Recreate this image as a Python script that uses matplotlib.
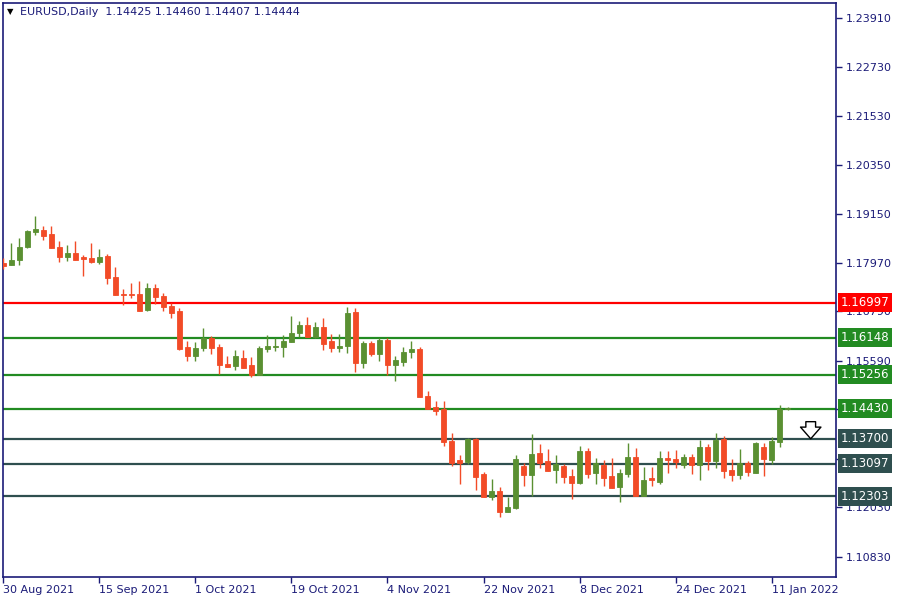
import matplotlib
matplotlib.use("Agg")
import matplotlib.pyplot as plt
import numpy as np

# daily EURUSD candles, 30 Aug 2021 .. 13 Jan 2022 (open, high, low, close)
opens = [1.17952, 1.17923, 1.18037, 1.18352, 1.18724, 1.18765, 1.18668, 1.18352, 1.18117, 1.18207,
         1.18110, 1.18085, 1.17996, 1.18134, 1.17624, 1.17212, 1.17212, 1.17212, 1.16831, 1.17357,
         1.17160, 1.16920, 1.16799, 1.15925, 1.15714, 1.15908, 1.16151, 1.15925, 1.15513, 1.15471,
         1.15658, 1.15488, 1.15253, 1.15877, 1.15933, 1.15933, 1.16054, 1.16272, 1.16459, 1.16168,
         1.16411, 1.16071, 1.15908, 1.15957, 1.16775, 1.15544, 1.16022, 1.15763, 1.16095, 1.15496,
         1.15561, 1.15804, 1.15877, 1.14736, 1.14469, 1.14421, 1.13644, 1.13183, 1.13134, 1.13692,
         1.12843, 1.12285, 1.12430, 1.11921, 1.12018, 1.13037, 1.12819, 1.13353, 1.13159, 1.12940,
         1.13037, 1.12795, 1.12632, 1.13401, 1.12875, 1.13061, 1.12795, 1.12535, 1.12850, 1.13256,
         1.12316, 1.12746, 1.12656, 1.13231, 1.13207, 1.13069, 1.13256, 1.13069, 1.13498, 1.13166,
         1.13692, 1.12940, 1.12826, 1.13110, 1.12875, 1.13498, 1.13190, 1.13627, 1.14425]
highs = [1.18085, 1.18457, 1.18578, 1.18765, 1.19105, 1.18862, 1.18862, 1.18498, 1.18401, 1.18498,
         1.18158, 1.18457, 1.18304, 1.18182, 1.17867, 1.17333, 1.17479, 1.17527, 1.17479, 1.17454,
         1.17236, 1.17000, 1.16872, 1.16071, 1.16047, 1.16386, 1.16192, 1.15998, 1.15707, 1.15852,
         1.15852, 1.15683, 1.15950, 1.16217, 1.16144, 1.16217, 1.16678, 1.16556, 1.16653, 1.16532,
         1.16629, 1.16241, 1.16241, 1.16896, 1.16872, 1.16071, 1.16071, 1.16144, 1.16144, 1.15707,
         1.15925, 1.16071, 1.15925, 1.14857, 1.14615, 1.14615, 1.13838, 1.13304, 1.13717, 1.13717,
         1.12892, 1.12722, 1.12528, 1.12285, 1.13304, 1.13110, 1.13814, 1.13571, 1.13450, 1.13304,
         1.13086, 1.12964, 1.13523, 1.13474, 1.13231, 1.13183, 1.13231, 1.12964, 1.13595, 1.13474,
         1.13013, 1.13013, 1.13401, 1.13401, 1.13425, 1.13328, 1.13328, 1.13668, 1.13571, 1.13838,
         1.13765, 1.13207, 1.13450, 1.13159, 1.13620, 1.13595, 1.13741, 1.14518, 1.14460]
lows = [1.17811, 1.17923, 1.17923, 1.18335, 1.18651, 1.18529, 1.18335, 1.17996, 1.18020, 1.18044,
        1.17656, 1.17971, 1.17947, 1.17462, 1.17195, 1.16952, 1.17122, 1.16806, 1.16806, 1.16976,
        1.16806, 1.16636, 1.15852, 1.15593, 1.15593, 1.15835, 1.15763, 1.15270, 1.15447, 1.15374,
        1.15423, 1.15204, 1.15253, 1.15804, 1.15835, 1.15690, 1.16054, 1.16175, 1.16168, 1.16151,
        1.15860, 1.15811, 1.15811, 1.15787, 1.15326, 1.15423, 1.15714, 1.15593, 1.15253, 1.15107,
        1.15471, 1.15666, 1.14719, 1.14421, 1.14282, 1.13523, 1.13037, 1.12600, 1.13086, 1.12455,
        1.12285, 1.12212, 1.11799, 1.11921, 1.11994, 1.12552, 1.12309, 1.12989, 1.12916, 1.12625,
        1.12625, 1.12236, 1.12600, 1.12753, 1.12608, 1.12559, 1.12511, 1.12171, 1.12778, 1.12316,
        1.12316, 1.12559, 1.12608, 1.12875, 1.12996, 1.12996, 1.12850, 1.12705, 1.12947, 1.12996,
        1.12753, 1.12680, 1.12729, 1.12802, 1.12875, 1.12802, 1.13093, 1.13506, 1.14407]
closes = [1.17898, 1.18037, 1.18352, 1.18741, 1.18789, 1.18627, 1.18335, 1.18117, 1.18207, 1.18044,
          1.18068, 1.17996, 1.18110, 1.17607, 1.17195, 1.17195, 1.17187, 1.16806, 1.17357, 1.17146,
          1.16903, 1.16758, 1.15877, 1.15714, 1.15901, 1.16151, 1.15908, 1.15496, 1.15447, 1.15707,
          1.15423, 1.15253, 1.15901, 1.15950, 1.15950, 1.16078, 1.16272, 1.16459, 1.16168, 1.16411,
          1.16005, 1.15908, 1.15957, 1.16750, 1.15544, 1.16022, 1.15763, 1.16095, 1.15496, 1.15610,
          1.15804, 1.15877, 1.14719, 1.14421, 1.14379, 1.13627, 1.13110, 1.13110, 1.13692, 1.12778,
          1.12285, 1.12430, 1.11921, 1.12042, 1.13207, 1.12819, 1.13328, 1.13110, 1.12916, 1.13086,
          1.12770, 1.12625, 1.13401, 1.12850, 1.13110, 1.12753, 1.12511, 1.12867, 1.13256, 1.12316,
          1.12697, 1.12705, 1.13231, 1.13190, 1.13142, 1.13256, 1.13069, 1.13498, 1.13166, 1.13668,
          1.12923, 1.12826, 1.13110, 1.12899, 1.13595, 1.13214, 1.13644, 1.14421, 1.14444]

date_labels = ["30 Aug 2021", "15 Sep 2021", "1 Oct 2021", "19 Oct 2021", "4 Nov 2021",
               "22 Nov 2021", "8 Dec 2021", "24 Dec 2021", "11 Jan 2022"]
price_ticks = [1.23910, 1.22730, 1.21530, 1.20350, 1.19150, 1.17970, 1.16790,
               1.15590, 1.14410, 1.13210, 1.12030, 1.10830]

levels = [1.16997, 1.16148, 1.15256, 1.14430, 1.13700, 1.13097, 1.12303]
level_colors = ["#ff0000", "#228b22", "#228b22", "#228b22", "#2f4f4f", "#2f4f4f", "#2f4f4f"]

header = "EURUSD,Daily  1.14425 1.14460 1.14407 1.14444"

UP = "#5a9032"
DOWN = "#f24b27"
NAVY = "#1b1b78"

fig = plt.figure(figsize=(9, 6), dpi=100)
ax = fig.add_axes([3 / 900, 23 / 600, 833 / 900, 574 / 600])

x = np.arange(len(opens))
o = np.array(opens)
h = np.array(highs)
l = np.array(lows)
c = np.array(closes)
cols = [UP if cc >= oo else DOWN for oo, cc in zip(o, c)]

# wicks and bodies
ax.vlines(x, l, h, colors=cols, linewidth=1.0, zorder=3)
ax.bar(x, np.abs(c - o), bottom=np.minimum(o, c), width=0.62, color=cols,
       edgecolor=cols, linewidth=0.6, zorder=4)

# support / resistance lines with price boxes on the scale
for lv, lc in zip(levels, level_colors):
    ax.axhline(lv, color=lc, linewidth=1.6, zorder=2)
    ax.text(1.0055, lv, f"{lv:.5f}", transform=ax.get_yaxis_transform(),
            color="white", fontsize=8.5, va="center", ha="left", zorder=6, clip_on=False,
            bbox=dict(boxstyle="square,pad=0.26", fc=lc, ec="none"))

# hollow arrow pointing down
ax.annotate("", xy=(100.9, 1.1363), xytext=(100.9, 1.1418),
            arrowprops=dict(arrowstyle="simple,head_length=0.6,head_width=1.05,tail_width=0.5",
                            fc="white", ec="black", lw=1.0, mutation_scale=14), zorder=5)

ax.set_xlim(-0.06, 104.06)
ax.set_ylim(1.10343, 1.24274)

ax.yaxis.tick_right()
ax.set_yticks(price_ticks)
ax.set_yticklabels([f"{p:.5f}" for p in price_ticks])
ax.set_xticks(np.arange(0, len(opens), 12)[:len(date_labels)])
ax.set_xticklabels(date_labels, ha="left")
ax.tick_params(axis="both", colors=NAVY, labelsize=8, length=4, width=1, direction="out")
ax.tick_params(axis="x", pad=2)
ax.tick_params(axis="y", pad=3)
for sp in ax.spines.values():
    sp.set_color(NAVY)
    sp.set_linewidth(1.2)

fig.text(7 / 900, 1 - 12 / 600, "\u25bc", fontsize=6, color="black", va="center")
fig.text(20 / 900, 1 - 12 / 600, header, fontsize=8, color=NAVY, va="center")

fig.savefig("out.png", dpi=100, facecolor="white")
